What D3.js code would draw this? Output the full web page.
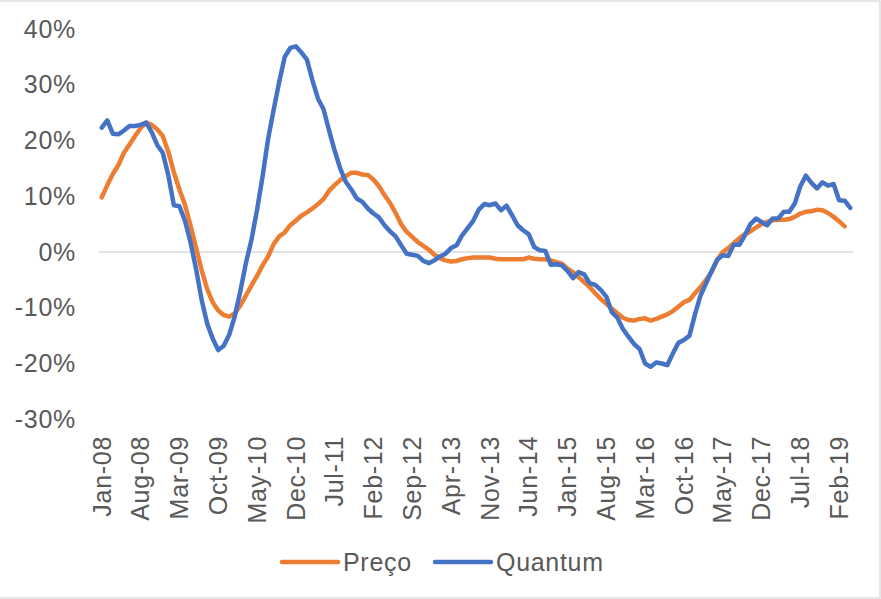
<!DOCTYPE html>
<html>
<head>
<meta charset="utf-8">
<script src="https://cdn.jsdelivr.net/npm/d3@7"></script>
<style>
  html, body { margin: 0; padding: 0; background: #fff; }
  svg { display: block; }
  text { font-family: "Liberation Sans", Arial, sans-serif; fill: #595959; letter-spacing: 0.7px; }
</style>
</head>
<body>
<svg id="chart" width="881" height="599"></svg>
<script>
// Categories: monthly, Jan-08 .. Apr-19
const startMonth = new Date(2008, 0, 1);
const endMonth = new Date(2019, 4, 1);
const months = d3.timeMonth.range(startMonth, endMonth);
const fmt = d3.timeFormat("%b-%y");
const categories = months.map(fmt);

const yTicks = [-30, -20, -10, 0, 10, 20, 30, 40];

const preco = [
  9.8, 12.0, 14.0, 15.6, 17.8, 19.3, 20.8, 22.2, 23.2, 22.8,
  22.0, 20.8, 18.0, 14.3, 11.2, 8.5, 4.8, 0.8, -3.2, -6.6,
  -9.0, -10.5, -11.3, -11.6, -11.0, -9.6, -7.8, -6.0, -4.3, -2.4,
  -0.8, 1.4, 2.8, 3.5, 4.8, 5.6, 6.5, 7.1, 7.8, 8.6,
  9.5, 11.0, 12.0, 12.9, 13.6, 14.2, 14.2, 13.9, 13.8, 13.0,
  11.8, 10.2, 8.8, 7.0, 5.0, 3.6, 2.7, 1.8, 1.1, 0.4,
  -0.5, -1.1, -1.5, -1.7, -1.6, -1.3, -1.1, -1.0, -1.0, -1.0,
  -1.0, -1.2, -1.3, -1.3, -1.3, -1.3, -1.3, -1.0, -1.2, -1.3,
  -1.3, -1.5, -1.8, -2.1, -3.0, -3.6, -4.5, -5.4, -6.3, -7.4,
  -8.4, -9.3, -10.2, -11.0, -11.8, -12.2, -12.3, -12.0, -11.9, -12.3,
  -12.0, -11.6, -11.2, -10.6, -9.8, -9.0, -8.6, -7.4, -6.3, -5.0,
  -3.6, -1.4, 0.0, 0.7, 1.6, 2.5, 3.2, 3.7, 4.4, 5.0,
  5.4, 5.7, 5.8, 5.8, 5.9, 6.3, 6.9, 7.2, 7.3, 7.6,
  7.5, 7.0, 6.3, 5.5, 4.6, null
];

const quantum = [
  22.3, 23.6, 21.2, 21.1, 21.8, 22.6, 22.6, 22.8, 23.2, 21.5,
  19.2, 17.8, 13.8, 8.4, 8.2, 5.6, 1.8, -3.0, -8.5, -12.8,
  -15.5, -17.6, -16.8, -14.8, -11.5, -7.0, -2.0, 2.2, 7.5, 13.5,
  20.3, 25.5, 30.5, 35.0, 36.6, 36.9, 35.8, 34.5, 30.8, 27.5,
  25.6, 21.8, 18.2, 15.0, 12.6, 11.2, 9.6, 9.0, 7.8, 6.9,
  6.2, 4.8, 3.7, 2.8, 1.2, -0.3, -0.5, -0.7, -1.6, -2.0,
  -1.5, -0.8, -0.3, 0.7, 1.2, 3.0, 4.3, 5.6, 7.6, 8.6,
  8.4, 8.7, 7.5, 8.3, 6.6, 4.8, 3.9, 3.2, 0.9, 0.3,
  0.2, -2.3, -2.2, -2.4, -3.4, -4.7, -3.6, -4.0, -5.6, -5.9,
  -6.8, -8.0, -10.8, -11.8, -13.8, -15.2, -16.5, -17.4, -20.0, -20.6,
  -19.8, -20.0, -20.3, -18.2, -16.3, -15.8, -15.0, -11.2, -7.8, -5.6,
  -3.4, -1.4, -0.6, -0.7, 1.3, 1.3, 3.0, 5.0, 6.0, 5.4,
  4.8, 6.0, 6.0, 7.2, 7.2, 8.7, 11.8, 13.7, 12.4, 11.4,
  12.5, 11.9, 12.2, 9.3, 9.2, 7.9
];

const seriesNames = ["Preço", "Quantum"];
const seriesColors = ["#ED7D31", "#4472C4"];

const svg = d3.select("#chart");

// chart border
svg.append("rect")
  .attr("x", -1).attr("y", 1).attr("width", 881).attr("height", 597)
  .attr("fill", "none").attr("stroke", "#D9D9D9").attr("stroke-width", 1.3);

const x = d3.scaleBand().domain(categories).range([99, 853]).paddingInner(0).paddingOuter(0);
const xc = c => x(c) + x.bandwidth() / 2;
const y = d3.scaleLinear().domain([-30, 40]).range([419.25, 29]);

// y axis labels
const yAxis = d3.axisLeft(y).tickValues(yTicks).tickSize(0).tickPadding(0)
  .tickFormat(d => d + "%");
const gy = svg.append("g").attr("transform", "translate(76,0)").call(yAxis);
gy.select(".domain").remove();
gy.selectAll("text").style("font-size", "25px").attr("fill", "#595959")
  .style("font-family", '"Liberation Sans", Arial, sans-serif');

// zero line (category axis)
svg.append("line")
  .attr("x1", 99).attr("x2", 853)
  .attr("y1", y(0)).attr("y2", y(0))
  .attr("stroke", "#D9D9D9").attr("stroke-width", 1.5);

// x axis labels (every 7 months), placed at the bottom of the plot
const tickCats = categories.filter((c, i) => i % 7 === 0);
const xAxis = d3.axisBottom(x).tickValues(tickCats).tickSize(0).tickPadding(0);
const gx = svg.append("g").attr("transform", "translate(0,436)").call(xAxis);
gx.select(".domain").remove();
gx.selectAll("text")
  .style("font-size", "25px").attr("fill", "#595959")
  .style("font-family", '"Liberation Sans", Arial, sans-serif')
  .attr("text-anchor", "end")
  .attr("transform", "rotate(-90)")
  .attr("x", 0).attr("y", 0).attr("dy", "0.35em");

// lines
const line = d3.line()
  .defined(d => d.v !== null)
  .x(d => xc(d.c))
  .y(d => y(d.v));

[preco, quantum].forEach((vals, k) => {
  const data = categories.map((c, i) => ({ c, v: vals[i] === undefined ? null : vals[i] }));
  svg.append("path")
    .datum(data)
    .attr("fill", "none")
    .attr("stroke", seriesColors[k])
    .attr("stroke-width", 4.5)
    .attr("stroke-linejoin", "round")
    .attr("stroke-linecap", "round")
    .attr("d", line);
});

// legend
const legendItems = [
  { name: seriesNames[0], color: seriesColors[0], x1: 282, x2: 338, tx: 343 },
  { name: seriesNames[1], color: seriesColors[1], x1: 435, x2: 491, tx: 496 }
];
legendItems.forEach(it => {
  svg.append("line")
    .attr("x1", it.x1).attr("x2", it.x2).attr("y1", 562).attr("y2", 562)
    .attr("stroke", it.color).attr("stroke-width", 4.5).attr("stroke-linecap", "round");
  svg.append("text")
    .attr("x", it.tx).attr("y", 562).attr("dy", "0.35em")
    .style("font-size", "25px")
    .text(it.name);
});
</script>
</body>
</html>
